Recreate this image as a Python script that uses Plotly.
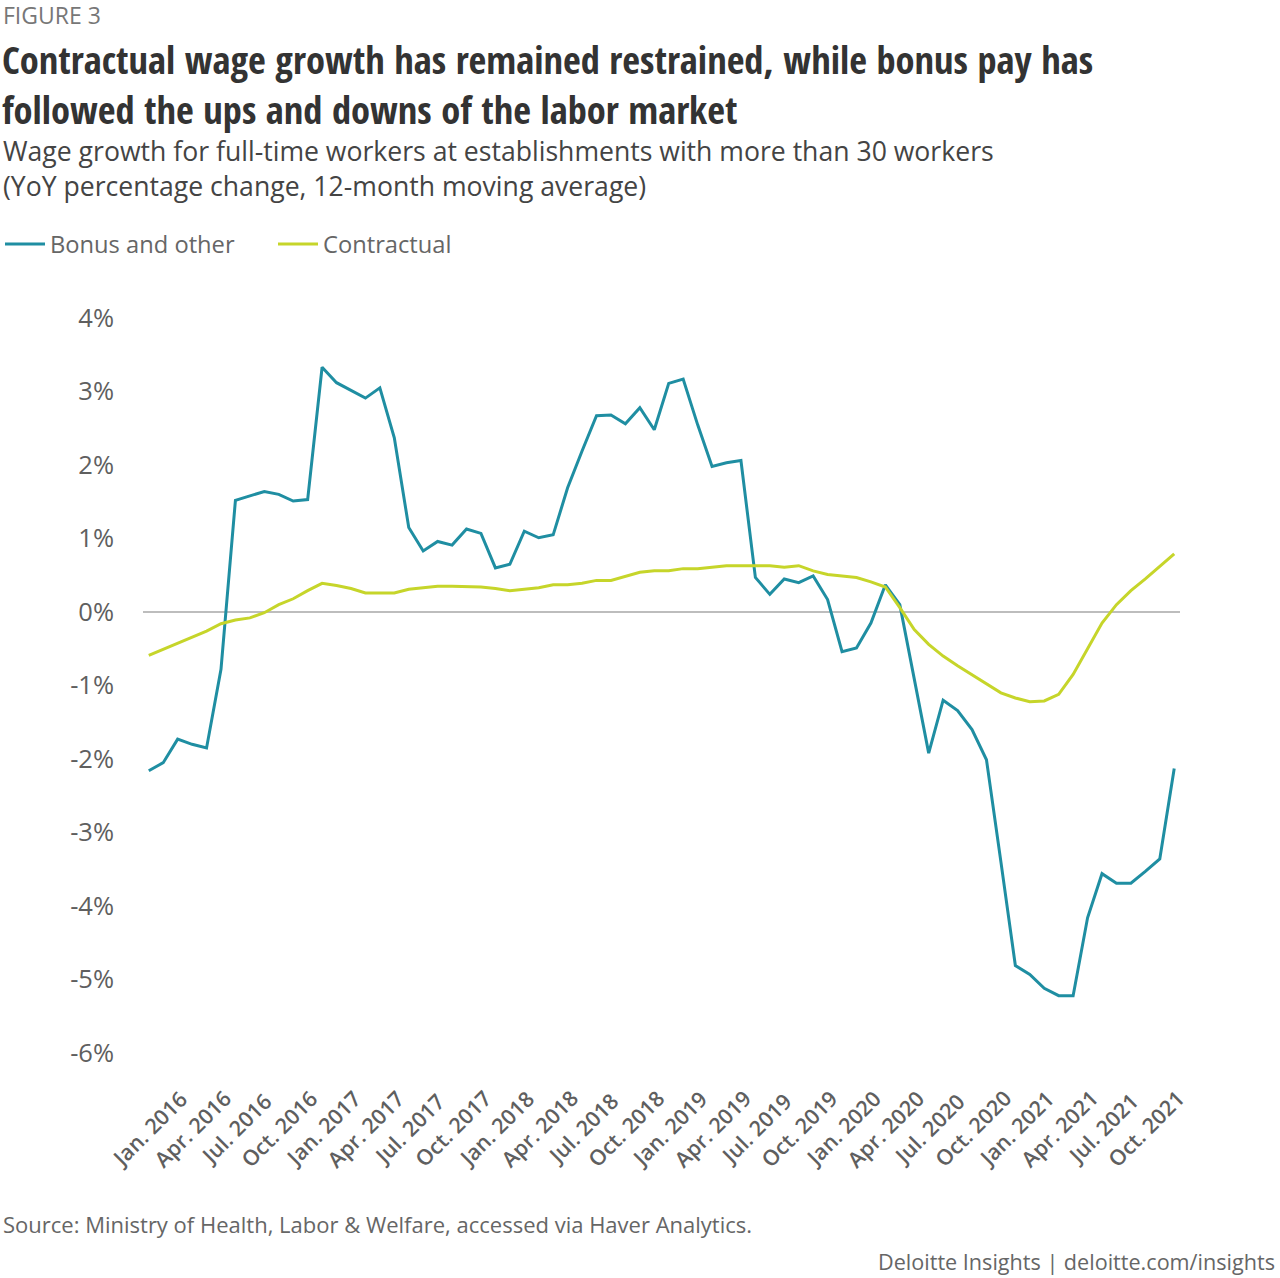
import plotly.graph_objects as go

# ---- Data ----
months = ["Jan", "Feb", "Mar", "Apr", "May", "Jun", "Jul", "Aug", "Sep", "Oct", "Nov", "Dec"]
years = [2016, 2017, 2018, 2019, 2020, 2021]
periods = [f"{m} {y}" for y in years for m in months]

bonus = [-2.16, -2.05, -1.73, -1.80, -1.85, -0.78, 1.52, 1.58, 1.64, 1.60, 1.51, 1.53,
         3.33, 3.12, 3.02, 2.91, 3.05, 2.37, 1.15, 0.83, 0.96, 0.91, 1.13, 1.07,
         0.60, 0.65, 1.10, 1.01, 1.05, 1.69, 2.19, 2.67, 2.68, 2.56, 2.78, 2.48,
         3.11, 3.17, 2.55, 1.98, 2.03, 2.06, 0.47, 0.24, 0.45, 0.40, 0.49, 0.17,
         -0.54, -0.49, -0.15, 0.37, 0.10, -0.90, -1.92, -1.20, -1.34, -1.60, -2.01, -3.40,
         -4.81, -4.93, -5.12, -5.22, -5.22, -4.16, -3.56, -3.69, -3.69, -3.53, -3.36, -2.13]

contractual = [-0.59, -0.51, -0.42, -0.34, -0.26, -0.16, -0.11, -0.08, -0.01, 0.10, 0.18, 0.29,
               0.39, 0.36, 0.32, 0.26, 0.26, 0.26, 0.31, 0.33, 0.35, 0.35, 0.35, 0.34,
               0.32, 0.29, 0.31, 0.33, 0.37, 0.37, 0.39, 0.43, 0.43, 0.48, 0.54, 0.56,
               0.56, 0.59, 0.59, 0.61, 0.63, 0.63, 0.63, 0.63, 0.61, 0.63, 0.56, 0.51,
               0.49, 0.47, 0.41, 0.34, 0.06, -0.24, -0.44, -0.60, -0.73, -0.85, -0.98, -1.10,
               -1.17, -1.22, -1.21, -1.12, -0.85, -0.49, -0.15, 0.10, 0.29, 0.45, 0.62, 0.79]

tick_labels = [f"{m}. {y}" for y in years for m in ["Jan", "Apr", "Jul", "Oct"]]
tick_index = [periods.index(lbl.replace(".", "")) for lbl in tick_labels]

y_ticks = [4, 3, 2, 1, 0, -1, -2, -3, -4, -5, -6]

# ---- Layout geometry ----
W, H = 1280, 1278
ML, MR, MT, MB = 143, 100, 318, 225
PW, PH = W - ML - MR, H - MT - MB


def px(xp):
    return (xp - ML) / PW


def py(yp):
    return (H - MB - yp) / PH


TEAL = "#1f8ea2"
LIME = "#c6d52a"
GRAY = "#5f5f5f"
TITLE_FONT = "Open Sans Condensed, Lato"

fig = go.Figure()
x_idx = list(range(len(periods)))
fig.add_trace(go.Scatter(x=x_idx, y=bonus, mode="lines", name="Bonus and other",
                         line=dict(color=TEAL, width=3), hovertext=periods))
fig.add_trace(go.Scatter(x=x_idx, y=contractual, mode="lines", name="Contractual",
                         line=dict(color=LIME, width=3), hovertext=periods))

annotations = []
# x tick labels as rotated annotations centred on the month
for idx, lbl in zip(tick_index, tick_labels):
    annotations.append(dict(x=idx, xref="x", y=py(1128), yref="paper", text=lbl,
                            showarrow=False, textangle=-45, xanchor="center", yanchor="middle",
                            font=dict(family="Open Sans", size=21.5, color=GRAY, weight=600)))

annotations += [
    dict(x=px(1), y=py(15), text="FIGURE 3", font=dict(family="Open Sans", size=23, color="#777777")),
    dict(x=px(0), y=py(83.5),
         text="<b>Contractual wage growth has remained restrained, while bonus pay has<br>"
              "followed the ups and downs of the labor market</b>",
         font=dict(family=TITLE_FONT, size=38.5, color="#333333")),
    dict(x=px(1), y=py(168),
         text="Wage growth for full-time workers at establishments with more than 30 workers<br>"
              "(YoY percentage change, 12-month moving average)",
         font=dict(family="Open Sans", size=26.6, color="#444444")),
    dict(x=px(1), y=py(1224), text="Source: Ministry of Health, Labor & Welfare, accessed via Haver Analytics.",
         font=dict(family="Open Sans", size=22, color="#666666")),
]
for a in annotations[-4:]:
    a.update(xref="paper", yref="paper", xanchor="left", yanchor="middle", align="left", showarrow=False)
annotations.append(dict(x=px(1277), y=py(1261), xref="paper", yref="paper", xanchor="right",
                        yanchor="middle", showarrow=False, text="Deloitte Insights | deloitte.com/insights",
                        font=dict(family="Open Sans", size=21.6, color="#666666")))

fig.update_layout(
    width=W, height=H,
    margin=dict(l=ML, r=MR, t=MT, b=MB, autoexpand=False),
    paper_bgcolor="white", plot_bgcolor="white",
    font=dict(family="Open Sans", color=GRAY),
    showlegend=True,
    legend=dict(orientation="h", xref="container", yref="container", x=-0.002, y=1 - 244 / H,
                xanchor="left", yanchor="middle", font=dict(family="Open Sans", size=23.7, color="#666666"),
                itemwidth=40, entrywidth=218, traceorder="normal", bgcolor="rgba(0,0,0,0)"),
    xaxis=dict(range=[-0.4, len(periods) - 1 + 0.4], showgrid=False, zeroline=False,
               showticklabels=False, ticks="", showline=False, fixedrange=True),
    yaxis=dict(range=[-6, 4], tickvals=y_ticks, ticktext=[f"{v}%" for v in y_ticks],
               showgrid=False, zeroline=True, zerolinecolor="#bdbdbd", zerolinewidth=1.5,
               showline=False, ticks="", ticklabelstandoff=28,
               tickfont=dict(family="Open Sans", size=25.5, color=GRAY)),
    annotations=annotations,
    hovermode="x unified",
)

fig.write_html("out.html", config={"displayModeBar": False},
               post_script="document.body.style.margin='0';")
